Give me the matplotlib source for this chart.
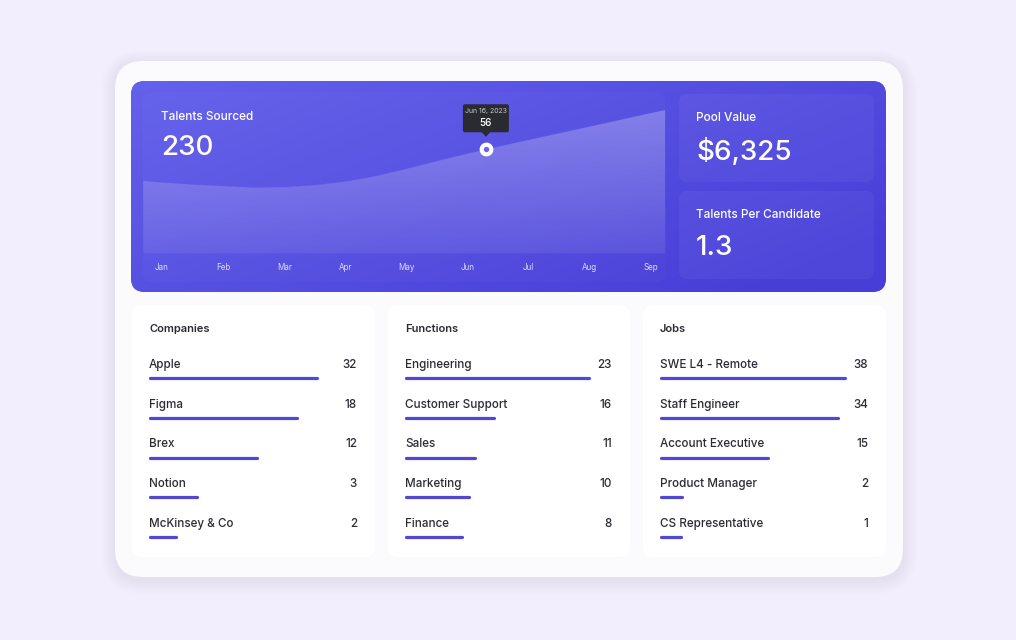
import numpy as np
import matplotlib
matplotlib.use("Agg")
import matplotlib.pyplot as plt
from matplotlib.patches import FancyBboxPatch, Polygon

plt.rcParams['font.family'] = ['Inter', 'DejaVu Sans']

W, H = 1016, 640

# talents sourced curve (x in months, Jan = 0)
month_labels = ['Jan', 'Feb', 'Mar', 'Apr', 'May', 'Jun', 'Jul', 'Aug', 'Sep']
talent_x = [-0.31, 0, 0.5, 1, 1.5, 2, 2.5, 3, 3.5, 4, 4.5, 5, 5.3, 6, 7, 8, 8.23]
talent_y = [39.0, 38.1, 37.0, 36.2, 35.4, 35.6, 36.7, 38.6, 41.6, 45.5, 49.7, 53.7, 56.0, 61.1, 68.3, 75.6, 77.2]
hover_x = 5.3
hover_value = 56
hover_label = 'Jun 16, 2023'

# headline stats
stat_titles = ['Talents Sourced', 'Pool Value', 'Talents Per Candidate']
stat_values = ['230', '$6,325', '1.3']

# list cards
card_titles = ['Companies', 'Functions', 'Jobs']
companies = ['Apple', 'Figma', 'Brex', 'Notion', 'McKinsey & Co']
company_counts = [32, 18, 12, 3, 2]
company_share = [0.81, 0.71, 0.52, 0.23, 0.13]
functions = ['Engineering', 'Customer Support', 'Sales', 'Marketing', 'Finance']
function_counts = [23, 16, 11, 10, 8]
function_share = [0.89, 0.43, 0.34, 0.31, 0.275]
jobs = ['SWE L4 - Remote', 'Staff Engineer', 'Account Executive', 'Product Manager', 'CS Representative']
job_counts = [38, 34, 15, 2, 1]
job_share = [0.89, 0.855, 0.52, 0.105, 0.10]

BAR = '#5047D6'
TEXT = '#2B2B33'


def rbox(ax, x0, y0, x1, y1, r, **kw):
    p = FancyBboxPatch((x0, y0), x1 - x0, y1 - y0,
                       boxstyle=f"round,pad=0,rounding_size={r}", **kw)
    ax.add_patch(p)
    return p


def shadow(ax, x0, y0, x1, y1, r, steps=6, alpha=0.012, dy=3, color='#3a2d8a'):
    for k in range(steps, 0, -1):
        rbox(ax, x0 - k, y0 - k + dy, x1 + k, y1 + k + dy, r + k,
             fc=color, ec='none', alpha=alpha, zorder=1)


fig = plt.figure(figsize=(W / 100, H / 100), dpi=100)
fig.patch.set_facecolor('#F3EEFD')
bg = fig.add_axes([0, 0, 1, 1])
bg.set_axis_off()

# outer card
shadow(bg, 115, 61, 903, 577, 28, steps=14, alpha=0.007, dy=3, color='#8f7fd8')
rbox(bg, 115, 61, 903, 577, 28, fc='#FBFBFD', ec='none', zorder=1.5)

# blue panel with gradient
shadow(bg, 131, 81, 886, 292, 14, steps=8, alpha=0.015, dy=4, color='#4038c8')
panel = rbox(bg, 131, 81, 886, 292, 14, fc='#5A55E4', ec='none', zorder=2)
gx, gy = np.meshgrid(np.linspace(0, 1, 256), np.linspace(0, 1, 64))
t = np.clip(gx * 0.65 + gy * 0.45, 0, 1)
c0 = np.array([0x64, 0x61, 0xEB]) / 255
c1 = np.array([0x47, 0x3E, 0xD8]) / 255
img = c0 + (c1 - c0) * t[..., None]
im = bg.imshow(img, extent=(131, 886, 292, 81), origin='upper',
               interpolation='bilinear', zorder=2.1)
im.set_clip_path(panel)

# inner lighter boxes
rbox(bg, 143, 92, 665, 282, 8, fc='white', ec='none', alpha=0.02, zorder=2.2)
rbox(bg, 679, 94, 874, 182, 8, fc='white', ec='none', alpha=0.045, zorder=2.2)
rbox(bg, 679, 191, 874, 279, 8, fc='white', ec='none', alpha=0.045, zorder=2.2)

# stat texts
stat_pos = [(161, 117, 148), (696, 118, 152), (696, 215, 248)]
for (sx, ty, vy), title, val in zip(stat_pos, stat_titles, stat_values):
    bg.text(sx, ty, title, color='white', fontsize=8.5, fontweight='medium',
            va='center', ha='left', zorder=5)
    bg.text(sx, vy, val, color='white', fontsize=20, fontweight='medium',
            va='center', ha='left', zorder=5)

# list cards
cards = [(132, 375, companies, company_counts, company_share),
         (388, 630, functions, function_counts, function_share),
         (643, 886, jobs, job_counts, job_share)]
for (cx0, cx1, names, counts, share), title in zip(cards, card_titles):
    shadow(bg, cx0, 305, cx1, 557, 10, steps=5, alpha=0.01, dy=2, color='#555577')
    rbox(bg, cx0, 305, cx1, 557, 10, fc='white', ec='none', zorder=2)
    bg.text(cx0 + 17, 329, title, color=TEXT, fontsize=8, fontweight='semibold',
            va='center', ha='left', zorder=5)

    x0 = cx0 + 17
    x1 = cx1 - 18
    ax = fig.add_axes([x0 / W, 1 - 545 / H, (x1 - x0) / W, 200 / H])
    ax.set_xlim(0, 1)
    ax.set_ylim(4.2, -0.83)
    ax.set_axis_off()
    rows = np.arange(len(names))
    ax.hlines(rows, 0.004, share, color=BAR, lw=2.3, capstyle='round')
    for i, (n, c) in enumerate(zip(names, counts)):
        ax.text(0, i - 0.33, n, color=TEXT, fontsize=8.4, fontweight='medium',
                va='center', ha='left')
        ax.text(1, i - 0.33, str(c), color=TEXT, fontsize=8.4, fontweight='medium',
                va='center', ha='right')

# area chart
cx = fig.add_axes([143 / W, 1 - 253 / H, 522 / W, 153 / H])
cx.patch.set_alpha(0)
cx.set_xlim(-0.31, 8.23)
cx.set_ylim(0, 82.6)
for s in cx.spines.values():
    s.set_visible(False)
cx.set_yticks([])
cx.set_xticks(range(len(month_labels)), month_labels)
cx.tick_params(axis='x', length=0, pad=7.5, labelsize=5.8, labelcolor=(1, 1, 1, 0.8))

area = cx.fill_between(talent_x, 0, talent_y, color='white', alpha=0.05, lw=0, zorder=2)
ag = np.linspace(0.24, 0.03, 128)[:, None] * np.ones((128, 8))
rgba = np.ones((128, 8, 4))
rgba[..., 3] = ag
aim = cx.imshow(rgba, extent=(-0.31, 8.23, 0, 82.6), origin='upper',
                aspect='auto', interpolation='bilinear', zorder=2.5)
aim.set_clip_path(area.get_paths()[0], cx.transData)
cx.set_xlim(-0.31, 8.23)
cx.set_ylim(0, 82.6)

cx.scatter([hover_x], [hover_value], s=48, fc='#6A66EA', ec='white', lw=3.0,
           zorder=6, clip_on=False)

bg.set_xlim(0, W)
bg.set_ylim(H, 0)
bg.set_aspect('auto')

# tooltip placed over the hovered point
px = cx.transData.transform((hover_x, hover_value))
dx, dy = bg.transData.inverted().transform(px)
rbox(bg, dx - 23, dy - 45, dx + 23, dy - 17, 2, fc='#2A2A31', ec='none', zorder=7)
bg.add_patch(Polygon([(dx - 4.5, dy - 17.5), (dx + 4.5, dy - 17.5), (dx, dy - 12.5)],
                     closed=True, fc='#2A2A31', ec='none', zorder=7))
bg.text(dx, dy - 38, hover_label, color='#C9C9D2', fontsize=5, ha='center', va='center', zorder=8)
bg.text(dx, dy - 26, str(hover_value), color='white', fontsize=7.2, fontweight='medium',
        ha='center', va='center', zorder=8)

fig.savefig('out.png', dpi=100, facecolor=fig.get_facecolor())
